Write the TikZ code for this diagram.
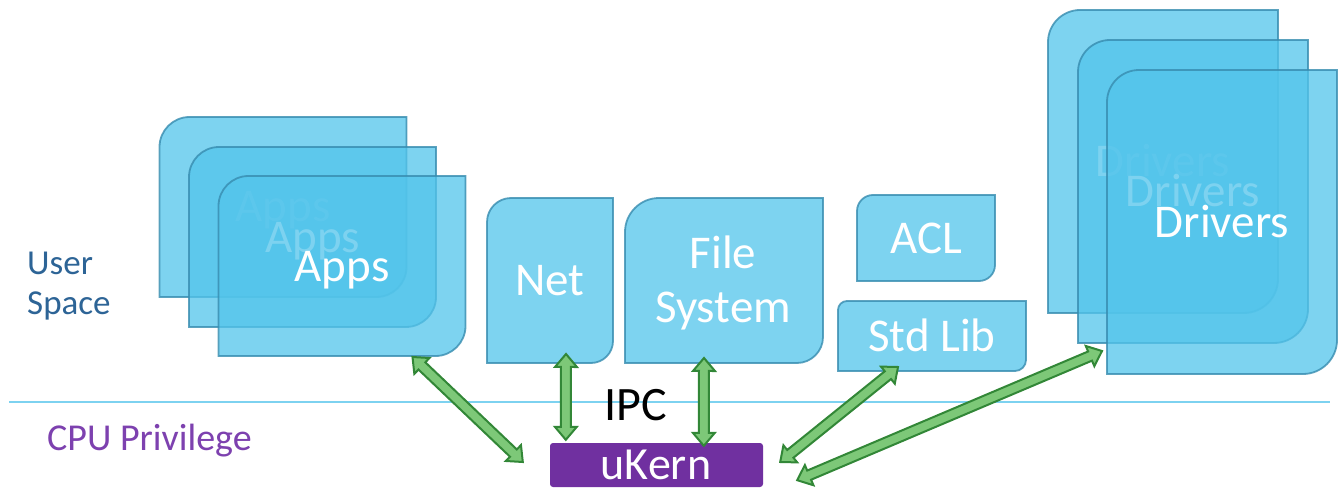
\documentclass[tikz,border=0pt]{standalone}
\usepackage{fontspec}
\setmainfont{Carlito}
\usetikzlibrary{calc}
\definecolor{boxfill}{RGB}{82,196,235}
\definecolor{boxline}{RGB}{55,140,175}
\definecolor{arrfill}{RGB}{125,200,120}
\definecolor{arrline}{RGB}{50,135,55}
\definecolor{kern}{RGB}{112,48,160}
\definecolor{userc}{RGB}{45,100,150}
\definecolor{cpuc}{RGB}{125,65,175}
\definecolor{sepc}{RGB}{125,210,240}
\tikzset{
  geom/.style={rectangle, draw=none, fill=none, inner sep=0pt, outer sep=0pt},
  leafsty/.style={fill=boxfill, fill opacity=0.75, draw=boxline, draw opacity=0.8, line width=1.8pt},
  boxtext/.style={text=white, font=\fontsize{47}{56}\selectfont, text height=30pt, text depth=0pt, inner sep=0pt},
  arrsty/.style={fill=arrfill, draw=arrline, line width=2pt, line join=miter},
  seprule/.style={draw=sepc, line width=2.5pt},
}
\newcommand\leaf[3]{%
  \draw[leafsty]
   ($(#1.north west)+(0pt,-#2pt)$)
   .. controls ($(#1.north west)+(0pt,{-0.45*#2pt})$) and ($(#1.north west)+({0.45*#2pt},0pt)$) .. ($(#1.north west)+(#2pt,0pt)$)
   -- (#1.north east)
   -- ($(#1.south east)+(0pt,#3pt)$)
   .. controls ($(#1.south east)+(0pt,{0.45*#3pt})$) and ($(#1.south east)+({-0.45*#3pt},0pt)$) .. ($(#1.south east)+(-#3pt,0pt)$)
   -- (#1.south west) -- cycle;}
\newcommand\dblarr[2]{%
  \draw[arrsty] (#1) -- ($(#1)!17.0pt!40.2:(#2)$) -- ($(#1)!13.9pt!21.0:(#2)$)
   -- ($(#2)!13.9pt!-21.0:(#1)$) -- ($(#2)!17.0pt!-40.2:(#1)$) -- (#2)
   -- ($(#2)!17.0pt!40.2:(#1)$) -- ($(#2)!13.9pt!21.0:(#1)$)
   -- ($(#1)!13.9pt!-21.0:(#2)$) -- ($(#1)!17.0pt!-40.2:(#2)$) -- cycle;}
\begin{document}
\begin{tikzpicture}[x=1pt,y=-1pt]
\useasboundingbox (0,0) rectangle (1341,489);
% separator
\coordinate (sepL) at (9,402);
\coordinate (sepR) at (1330,402);
\draw[seprule] (sepL) -- (sepR);
% Apps stack
\node[geom, minimum width=247pt, minimum height=180pt] (apps1) at (283,207) {};
\leaf{apps1}{30}{30}
\node[boxtext] (tapps1) at (apps1) {Apps};
\node[geom, minimum width=247pt, minimum height=180pt] (apps2) at (312.5,237) {};
\leaf{apps2}{30}{30}
\node[boxtext] (tapps2) at (apps2) {Apps};
\node[geom, minimum width=247pt, minimum height=180pt] (apps3) at (342,266) {};
\leaf{apps3}{30}{30}
\node[boxtext] (tapps3) at (apps3) {Apps};
% Net
\node[geom, minimum width=126pt, minimum height=165pt] (net) at (550,280.5) {};
\leaf{net}{24}{22}
\node[boxtext] (tnet) at (net) {Net};
% File System
\node[geom, minimum width=198pt, minimum height=165pt] (fs) at (724,280.5) {};
\leaf{fs}{34}{26}
\node[text=white, font=\fontsize{47}{56}\selectfont, anchor=base, inner sep=0pt] (tfs1) at (723,268) {File};
\node[text=white, font=\fontsize{47}{56}\selectfont, anchor=base, inner sep=0pt] (tfs2) at (723,322) {System};
% ACL
\node[geom, minimum width=138pt, minimum height=86pt] (acl) at (926,238) {};
\leaf{acl}{16}{16}
\node[boxtext] (tacl) at (acl) {ACL};
% Std Lib
\node[geom, minimum width=188pt, minimum height=70pt] (stdlib) at (932,336) {};
\leaf{stdlib}{9}{11}
\node[boxtext] (tstdlib) at (stdlib) {Std Lib};
% Drivers stack
\node[geom, minimum width=230pt, minimum height=303pt] (drv1) at (1163,161.5) {};
\leaf{drv1}{32}{34}
\node[boxtext] (tdrv1) at (drv1) {Drivers};
\node[geom, minimum width=230pt, minimum height=303pt] (drv2) at (1193,191.5) {};
\leaf{drv2}{32}{34}
\node[boxtext] (tdrv2) at (drv2) {Drivers};
\node[geom, minimum width=230pt, minimum height=304pt] (drv3) at (1222,222) {};
\leaf{drv3}{32}{34}
\node[boxtext] (tdrv3) at (drv3) {Drivers};
% uKern
\node[rectangle, fill=kern, rounded corners=3pt, minimum width=213pt, minimum height=44pt, inner sep=0pt] (ukern) at (656.5,465) {};
\node[text=white, font=\fontsize{46}{54}\selectfont, anchor=base, inner sep=0pt] (tukern) at (656,479) {uKern};
% labels
\node[text=black, font=\fontsize{48}{56}\selectfont, anchor=base, inner sep=0pt] (ipc) at (636,420) {IPC};
\node[text=userc, font=\fontsize{35}{40}\selectfont, anchor=west, align=left, inner sep=0pt] (user) at (27,286) {User\\Space};
\node[text=cpuc, font=\fontsize{38}{44}\selectfont, anchor=base west, inner sep=0pt] (cpu) at (47,450) {CPU Privilege};
% arrow end points
\coordinate (a1) at ($(apps3.south east)+(-53pt,-1pt)$);
\coordinate (b1) at ($(ukern.west)+(-27pt,3pt)$);
\coordinate (a2) at ($(net.south)+(16pt,9pt)$);
\coordinate (b2) at ($(ukern.north west)+(16pt,3pt)$);
\coordinate (a3) at ($(fs.south)+(-20pt,5pt)$);
\coordinate (b3) at ($(ukern.north west)+(154pt,-3pt)$);
\coordinate (a4) at ($(stdlib.south west)+(60pt,4pt)$);
\coordinate (b4) at ($(ukern.east)+(17pt,3pt)$);
\coordinate (a5) at ($(drv3.south west)+(-5pt,23pt)$);
\coordinate (b5) at ($(ukern.south east)+(34pt,7pt)$);
\dblarr{a1}{b1}
\dblarr{a2}{b2}
\dblarr{a3}{b3}
\dblarr{a4}{b4}
\dblarr{a5}{b5}
\end{tikzpicture}
\end{document}
